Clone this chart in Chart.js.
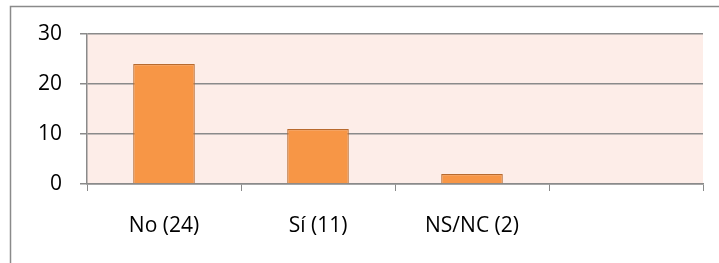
<!DOCTYPE html>
<html>
<head>
<meta charset="utf-8">
<script src="https://cdn.jsdelivr.net/npm/chart.js@4"></script>
<style>
  html, body { margin: 0; padding: 0; background: #fff; }
  #wrap { width: 719px; height: 263px; position: relative; }
</style>
</head>
<body>
<div id="wrap"><canvas id="myChart"></canvas></div>
<script>
// chart data
const categories = ['No (24)', 'Sí (11)', 'NS/NC (2)', ''];
const values = [24, 11, 2, null];
const yTicks = [0, 10, 20, 30];

// outer frame + pale plot background
const frame = {
    id: 'frame',
    beforeDraw(chart) {
        const c = chart.ctx, a = chart.chartArea;
        c.save();
        c.fillStyle = '#fdede8';
        c.fillRect(a.left, a.top, a.right - a.left, a.bottom - a.top);
        c.strokeStyle = '#8a8a8a';
        c.lineWidth = 1.5;
        c.strokeRect(10.5, 6.5, 740, 300);
        c.restore();
    }
};

const ctx = document.getElementById('myChart').getContext('2d');
const myChart = new Chart(ctx, {
    type: 'bar',
    data: {
        labels: categories,
        datasets: [{
            data: values,
            backgroundColor: '#f79646',
            borderColor: '#b86a2e',
            borderWidth: 1.2,
            barPercentage: 0.8,
            categoryPercentage: 0.5,
        }],
    },
    options: {
        responsive: true,
        maintainAspectRatio: false,
        animation: false,
        layout: { padding: { top: 34, right: 16, left: 0, bottom: 0 } },
        plugins: { legend: { display: false }, tooltip: { enabled: false } },
        scales: {
            x: {
                grid: { offset: true, drawOnChartArea: false, color: '#8a8a8a', tickLength: 7 },
                border: { color: '#8a8a8a', width: 1.5 },
                ticks: { color: '#000', padding: 22, font: { family: 'Open Sans', size: 21 } },
                afterFit(scale) { scale.height = 79; },
            },
            y: {
                min: 0,
                max: 30,
                afterBuildTicks(scale) { scale.ticks = yTicks.map(v => ({ value: v })); },
                grid: { color: '#8a8a8a', lineWidth: 1.5, tickLength: 7 },
                border: { color: '#8a8a8a', width: 1.5 },
                ticks: { color: '#000', padding: 18, font: { family: 'Open Sans', size: 21 } },
                afterFit(scale) { scale.width = 87; },
            },
        },
    },
    plugins: [frame],
});
</script>
</body>
</html>
